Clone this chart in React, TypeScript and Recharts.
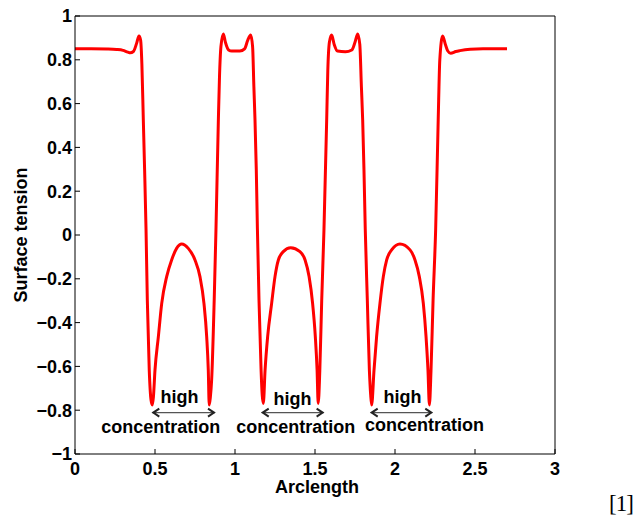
import { LineChart, Line, XAxis, YAxis, ReferenceLine, ReferenceDot } from 'recharts'

// curve (arclength -> surface tension)
const arclength = [
  0, 0.1, 0.2, 0.26, 0.3, 0.33, 0.345, 0.365, 0.385, 0.4, 0.41, 0.418, 0.427, 0.435, 0.444, 0.452, 0.464, 0.475, 0.483,
  0.49, 0.5, 0.521, 0.542, 0.573, 0.604, 0.635, 0.667, 0.708, 0.75, 0.781, 0.806, 0.823, 0.833, 0.839,
  0.846, 0.854, 0.87, 0.881, 0.896, 0.903, 0.912, 0.927, 0.94, 0.96, 0.98, 1.03, 1.06, 1.08, 1.098, 1.11, 1.118, 1.125, 1.133, 1.14,
  1.15, 1.163, 1.17, 1.177,
  1.188, 1.204, 1.229, 1.25, 1.271, 1.302, 1.348, 1.406, 1.438, 1.463, 1.485, 1.502, 1.513, 1.52,
  1.53, 1.542, 1.556, 1.573, 1.58, 1.59, 1.604, 1.62, 1.64, 1.69, 1.73, 1.75, 1.767, 1.78, 1.79, 1.798, 1.806, 1.814,
  1.827, 1.84, 1.848, 1.854,
  1.869, 1.885, 1.906, 1.927, 1.948, 1.979, 2.031, 2.094, 2.125, 2.152, 2.177, 2.194, 2.206, 2.215,
  2.225, 2.238, 2.254, 2.27, 2.28, 2.298, 2.315, 2.33, 2.348, 2.38, 2.406, 2.47, 2.55, 2.7,
]
const tension = [
  0.85, 0.85, 0.849, 0.847, 0.843, 0.835, 0.832, 0.838, 0.875, 0.909, 0.89, 0.78, 0.525, 0.3, 0.023, -0.297, -0.616, -0.753, -0.776,
  -0.74, -0.616, -0.464, -0.312, -0.19, -0.114, -0.061, -0.041, -0.061, -0.114, -0.19, -0.312, -0.464, -0.616, -0.776,
  -0.74, -0.662, -0.297, 0.023, 0.525, 0.72, 0.86, 0.918, 0.88, 0.845, 0.84, 0.84, 0.85, 0.89, 0.913, 0.86, 0.677, 0.525, 0.3, 0.03,
  -0.297, -0.616, -0.73, -0.769,
  -0.616, -0.464, -0.312, -0.19, -0.114, -0.076, -0.058, -0.076, -0.114, -0.19, -0.312, -0.464, -0.616, -0.769,
  -0.62, -0.297, 0.023, 0.525, 0.75, 0.88, 0.913, 0.87, 0.84, 0.837, 0.845, 0.88, 0.918, 0.87, 0.677, 0.525, 0.3, 0.03,
  -0.297, -0.62, -0.73, -0.776,
  -0.616, -0.464, -0.312, -0.19, -0.114, -0.068, -0.041, -0.068, -0.114, -0.19, -0.312, -0.464, -0.616, -0.776,
  -0.62, -0.297, 0.023, 0.525, 0.8, 0.909, 0.87, 0.84, 0.83, 0.838, 0.842, 0.848, 0.85, 0.85,
]

const xTicks = [0, 0.5, 1, 1.5, 2, 2.5, 3]
const yTicks = [-1, -0.8, -0.6, -0.4, -0.2, 0, 0.2, 0.4, 0.6, 0.8, 1]

// "high concentration" annotations
const arrowFrom = [0.483, 1.167, 1.848]
const arrowTo = [0.875, 1.554, 2.233]
const arrowLevel = -0.811
const highX = [0.653, 1.359, 2.047]
const highY = [-0.767, -0.776, -0.767]
const concX = [0.536, 1.38, 2.184]
const concY = [-0.902, -0.902, -0.895]

const data = arclength.map((x, i) => ({ x, tension: tension[i] }))

const font = 'Liberation Sans, Arial, Helvetica, sans-serif'
const tickStyle = { fill: '#000', fontSize: 18, fontWeight: 'bold', fontFamily: font }
const fmt = (v: number) => String(v).replace('-', '\u2212')

const ArrowShape = (p: any) => {
  const { x1, y1, x2, y2 } = p
  const a = Math.min(x1, x2)
  const b = Math.max(x1, x2)
  return (
    <g stroke="#222" fill="none">
      <line x1={a} y1={y1} x2={b} y2={y2} strokeWidth={1.2} stroke="#555" />
      <polyline points={`${a + 7},${y1 - 4} ${a + 1},${y1} ${a + 7},${y1 + 4}`} strokeWidth={2} />
      <polyline points={`${b - 7},${y2 - 4} ${b - 1},${y2} ${b - 7},${y2 + 4}`} strokeWidth={2} />
    </g>
  )
}

const textShape = (label: string) => (p: any) => (
  <text x={p.cx} y={p.cy} textAnchor="middle" fill="#000" fontSize={18} fontWeight="bold" fontFamily={font}>
    {label}
  </text>
)

export default function App() {
  return (
    <div style={{ position: 'absolute', left: 0, top: 0, width: 634, height: 522, background: '#fff', overflow: 'hidden' }}>
      <LineChart width={634} height={522} data={data} margin={{ top: 15, right: 78, bottom: 18, left: 15 }}>
        <XAxis
          dataKey="x"
          type="number"
          domain={[0, 3]}
          ticks={xTicks}
          tickFormatter={fmt}
          height={50}
          stroke="#000"
          tickSize={-5}
          tickMargin={13}
          tick={tickStyle}
          label={{
            content: ({ viewBox }: any) => (
              <text x={viewBox.x + viewBox.width / 2 + 2} y={viewBox.y + 39} textAnchor="middle" fill="#000" fontSize={18} fontWeight="bold" fontFamily={font}>
                Arclength
              </text>
            ),
          }}
        />
        <XAxis
          xAxisId="top"
          orientation="top"
          dataKey="x"
          type="number"
          domain={[0, 3]}
          ticks={xTicks}
          height={1}
          stroke="#000"
          tickSize={-5}
          tick={false}
        />
        <YAxis
          type="number"
          domain={[-1, 1]}
          ticks={yTicks}
          tickFormatter={fmt}
          width={60}
          stroke="#000"
          tickSize={-5}
          tickMargin={8}
          tick={tickStyle}
          label={{
            content: ({ viewBox }: any) => {
              const cx = viewBox.x + 6
              const cy = viewBox.y + viewBox.height / 2
              return (
                <text x={cx} y={cy} transform={`rotate(-90 ${cx} ${cy})`} textAnchor="middle" dominantBaseline="central" fill="#000" fontSize={18} fontWeight="bold" fontFamily={font}>
                  Surface tension
                </text>
              )
            },
          }}
        />
        <YAxis
          yAxisId="right"
          orientation="right"
          type="number"
          domain={[-1, 1]}
          ticks={yTicks}
          width={1}
          stroke="#000"
          tickSize={-5}
          tick={false}
          allowDataOverflow
        />
        <Line
          type="monotone"
          dataKey="tension"
          stroke="#ff0000"
          strokeWidth={3}
          dot={false}
          activeDot={false}
          isAnimationActive={false}
        />
        {arrowFrom.map((from, i) => (
          <ReferenceLine
            key={'arrow' + i}
            segment={[{ x: from, y: arrowLevel }, { x: arrowTo[i], y: arrowLevel }]}
            shape={ArrowShape}
          />
        ))}
        {highX.map((x, i) => (
          <ReferenceDot key={'high' + i} x={x} y={highY[i]} r={0} shape={textShape('high')} />
        ))}
        {concX.map((x, i) => (
          <ReferenceDot key={'conc' + i} x={x} y={concY[i]} r={0} shape={textShape('concentration')} />
        ))}
      </LineChart>
      <div style={{ position: 'absolute', left: 609, top: 490, fontFamily: 'Liberation Serif, serif', fontSize: 23, letterSpacing: -1, color: '#000', lineHeight: '28px' }}>
        [1]
      </div>
    </div>
  )
}
